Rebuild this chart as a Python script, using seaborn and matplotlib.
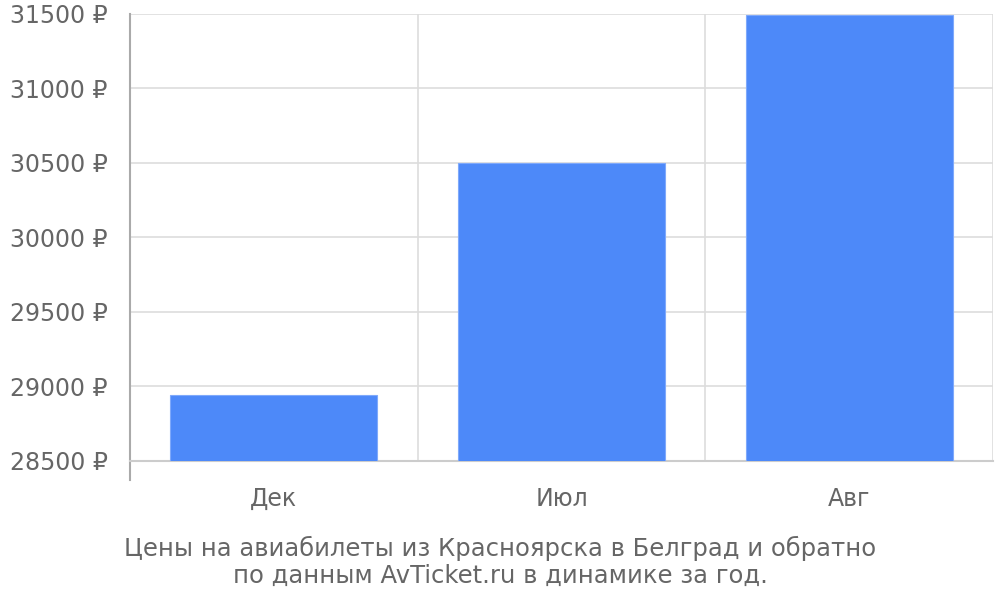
import numpy as np
import pandas as pd
import seaborn as sns
import matplotlib.pyplot as plt
from matplotlib.ticker import FixedLocator

# Данные
months = ["Дек", "Июл", "Авг"]
prices = [28940, 30500, 31490]
y_ticks = [28500, 29000, 29500, 30000, 30500, 31000, 31500]
caption = "Цены на авиабилеты из Красноярска в Белград и обратно\nпо данным AvTicket.ru в динамике за год."

sns.set_theme(style="white")
plt.rcParams['font.family'] = ['DejaVu Sans']
text_color = "#666666"

df = pd.DataFrame({"month": months, "price": prices})

fig = plt.figure(figsize=(10, 6), dpi=100)
ax = fig.add_axes([0.13, 0.2317, 0.863, 0.745])

sns.barplot(data=df, x="month", y="price", color="#4D89F9", saturation=1,
            width=0.72, edgecolor="#7fa9fb", linewidth=0.8, ax=ax, zorder=3)

ax.set_ylim(y_ticks[0], y_ticks[-1])
ax.set_xlim(-0.5, len(months) - 0.5)
ax.set_yticks(y_ticks)
ax.set_yticklabels([f"{v} ₽" for v in y_ticks])

# вертикальные линии между категориями
ax.xaxis.set_minor_locator(FixedLocator(np.arange(-0.5, len(months), 1.0)))
ax.tick_params(axis="x", which="minor", length=19, color="#dddddd", width=1.2)
ax.tick_params(axis="x", which="major", length=0, pad=19, labelsize=17, labelcolor=text_color)
ax.tick_params(axis="y", which="major", length=20, color="#dddddd", width=1.2,
               pad=-4, labelsize=17, labelcolor=text_color)
ax.grid(True, axis="x", which="minor", color="#dddddd", linewidth=1.2, zorder=0)
ax.grid(True, axis="y", which="major", color="#dddddd", linewidth=1.2, zorder=0)
ax.set_axisbelow(True)

ax.set_xlabel("")
ax.set_ylabel("")
sns.despine(ax=ax, top=True, right=True)
ax.spines["left"].set_color("#aaaaaa")
ax.spines["left"].set_linewidth(1.5)
ax.spines["left"].set_bounds(y_ticks[0] - 130, y_ticks[-1])
ax.spines["left"].set_clip_on(False)
ax.spines["bottom"].set_color("#cccccc")
ax.spines["bottom"].set_linewidth(1.5)

fig.text(0.5, 0.063, caption, ha="center", va="center", fontsize=17.5,
         color=text_color, linespacing=1.15)

fig.savefig("out.png", dpi=100)
